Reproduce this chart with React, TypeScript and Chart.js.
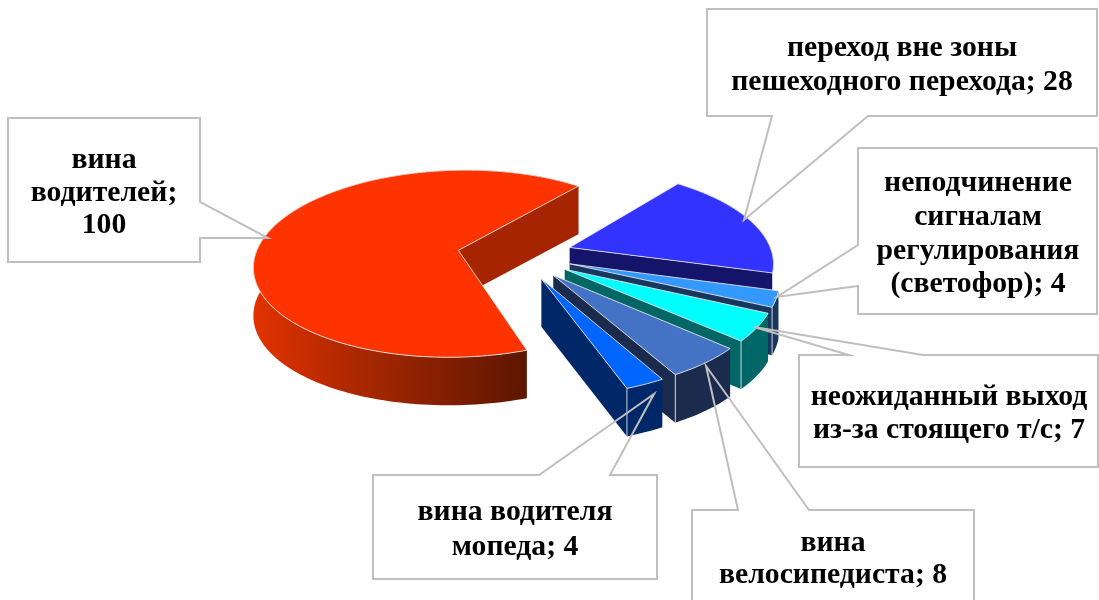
import React, { useEffect, useRef } from "react";
import { Chart, registerables } from "chart.js";

Chart.register(...registerables);

// --- data ---
const categories = [
  "вина водителей",
  "переход вне зоны пешеходного перехода",
  "неподчинение сигналам регулирования (светофор)",
  "неожиданный выход из-за стоящего т/с",
  "вина велосипедиста",
  "вина водителя мопеда",
];
const values = [100, 28, 4, 7, 8, 4];
const labelLines = [
  ["вина", "водителей;", "100"],
  ["переход вне зоны", "пешеходного перехода; 28"],
  ["неподчинение", "сигналам", "регулирования", "(светофор); 4"],
  ["неожиданный выход", "из-за стоящего т/с; 7"],
  ["вина", "велосипедиста; 8"],
  ["вина водителя", "мопеда; 4"],
];

// --- styles ---
const topColors = ["#FF3300", "#3333FF", "#3399FF", "#00FFFF", "#4472C4", "#0066FF"];
const cutColors = ["#A62400", "#14146B", "#17375E", "#006666", "#1A2B4D", "#002868"];
const wallColors = [null, "#14146B", "#17375E", "#006666", "#1A2B4D", "#002868"];
const explode = [0.3, 0.27, 0.27, 0.27, 0.27, 0.27];

const PIE_X = 518;
const PIE_Y = 255;
const SCALE_X = 203;
const SCALE_Y = 93;
const PERSPECTIVE = 0.144;
const DEPTH = 48;
const EDGE = "rgba(235,235,235,0.85)";
const BOX_LINE = "#BFBFBF";
const FONT = 'bold 29.7px "Liberation Serif", serif';

// callout outlines: box rectangle with its wedge, tip reaching the slice
const callouts = [
  { path: [[8, 118], [200, 118], [200, 202], [268, 238], [200, 238], [200, 262], [8, 262]], cx: 104, ys: [160, 193, 225] },
  { path: [[707, 9], [1097, 9], [1097, 116], [868, 116], [744, 220], [772, 116], [707, 116]], cx: 902, ys: [48, 82] },
  { path: [[858, 148], [1097, 148], [1097, 314], [858, 314], [858, 286], [777, 297], [858, 245]], cx: 978, ys: [183, 217, 251, 284] },
  { path: [[799, 355], [849, 355], [754, 327], [923, 355], [1098, 355], [1098, 467], [799, 467]], cx: 949, ys: [397, 430] },
  { path: [[692, 510], [738, 510], [706, 366], [809, 510], [974, 510], [974, 604], [692, 604]], cx: 833, ys: [543, 575] },
  { path: [[373, 475], [539, 475], [654, 394], [610, 475], [657, 475], [657, 579], [373, 579]], cx: 515, ys: [512, 547] },
];

function project(u: number, v: number, z = 0): [number, number] {
  const w = 1 - PERSPECTIVE * v;
  return [PIE_X + (SCALE_X * u) / w, PIE_Y + (SCALE_Y * v) / w + z];
}

function poly(ctx: CanvasRenderingContext2D, pts: [number, number][], fill: any, stroke?: string) {
  ctx.beginPath();
  pts.forEach((p, i) => (i ? ctx.lineTo(p[0], p[1]) : ctx.moveTo(p[0], p[1])));
  ctx.closePath();
  if (fill) {
    ctx.fillStyle = fill;
    ctx.fill();
  }
  if (stroke) {
    ctx.strokeStyle = stroke;
    ctx.lineWidth = 1;
    ctx.stroke();
  }
}

const pie3d = {
  id: "pie3d",
  beforeDatasetsDraw(chart: any) {
    const ctx: CanvasRenderingContext2D = chart.ctx;
    const arcs = chart.getDatasetMeta(0).data;
    arcs.forEach((arc: any, i: number) => {
      const a0 = arc.startAngle;
      const a1 = arc.endAngle;
      const mid = (a0 + a1) / 2;
      const ax = Math.cos(mid) * explode[i];
      const ay = Math.sin(mid) * explode[i];
      const steps = Math.max(6, Math.ceil((a1 - a0) * 40));
      const rim: [number, number, number][] = [];
      for (let s = 0; s <= steps; s++) {
        const t = a0 + ((a1 - a0) * s) / steps;
        rim.push([ax + Math.cos(t), ay + Math.sin(t), 0]);
      }
      const topRim = rim.map((p) => project(p[0], p[1]));
      const lowRim = rim.map((p) => project(p[0], p[1], DEPTH));
      const apex = project(ax, ay);
      const apexLow = project(ax, ay, DEPTH);
      const endTop = topRim[topRim.length - 1];
      const endLow = lowRim[lowRim.length - 1];

      // outer wall
      let wallFill: any = wallColors[i];
      if (i === 0) {
        const g = ctx.createLinearGradient(254, 0, 527, 0);
        g.addColorStop(0, "#E23200");
        g.addColorStop(0.42, "#A52700");
        g.addColorStop(1, "#5C1600");
        wallFill = g;
      }
      poly(ctx, [...topRim, ...lowRim.slice().reverse()], wallFill);
      // cut face at the slice's closing edge
      poly(ctx, [apex, endTop, endLow, apexLow], cutColors[i]);
      if (i > 0) {
        ctx.strokeStyle = EDGE;
        ctx.lineWidth = 1;
        ctx.beginPath();
        ctx.moveTo(endTop[0], endTop[1]);
        ctx.lineTo(endLow[0], endLow[1]);
        ctx.stroke();
      }
      // top face
      poly(ctx, [apex, ...topRim], topColors[i], EDGE);
    });
    return false;
  },
  afterDraw(chart: any) {
    const ctx: CanvasRenderingContext2D = chart.ctx;
    ctx.save();
    callouts.forEach((c, i) => {
      ctx.beginPath();
      c.path.forEach((p, k) => (k ? ctx.lineTo(p[0], p[1]) : ctx.moveTo(p[0], p[1])));
      ctx.closePath();
      ctx.strokeStyle = BOX_LINE;
      ctx.lineWidth = 2;
      ctx.lineJoin = "miter";
      ctx.stroke();
      ctx.fillStyle = "#000";
      ctx.font = FONT;
      ctx.textAlign = "center";
      ctx.textBaseline = "middle";
      labelLines[i].forEach((line, k) => ctx.fillText(line, c.cx, c.ys[k]));
    });
    ctx.restore();
  },
};

export default function App() {
  const ref = useRef<HTMLCanvasElement>(null);
  useEffect(() => {
    const chart = new Chart(ref.current as HTMLCanvasElement, {
      type: "pie",
      data: {
        labels: categories,
        datasets: [{ data: values, backgroundColor: topColors, borderWidth: 0 }],
      },
      options: {
        responsive: false,
        animation: false,
        rotation: 160.5,
        layout: { padding: 0 },
        plugins: { legend: { display: false }, tooltip: { enabled: false } },
      },
      plugins: [pie3d],
    } as any);
    return () => chart.destroy();
  }, []);
  return (
    <div style={{ position: "absolute", left: 0, top: 0, width: 1099, height: 600, background: "#fff", overflow: "hidden" }}>
      <canvas ref={ref} width={1099} height={600} style={{ display: "block" }} />
    </div>
  );
}
